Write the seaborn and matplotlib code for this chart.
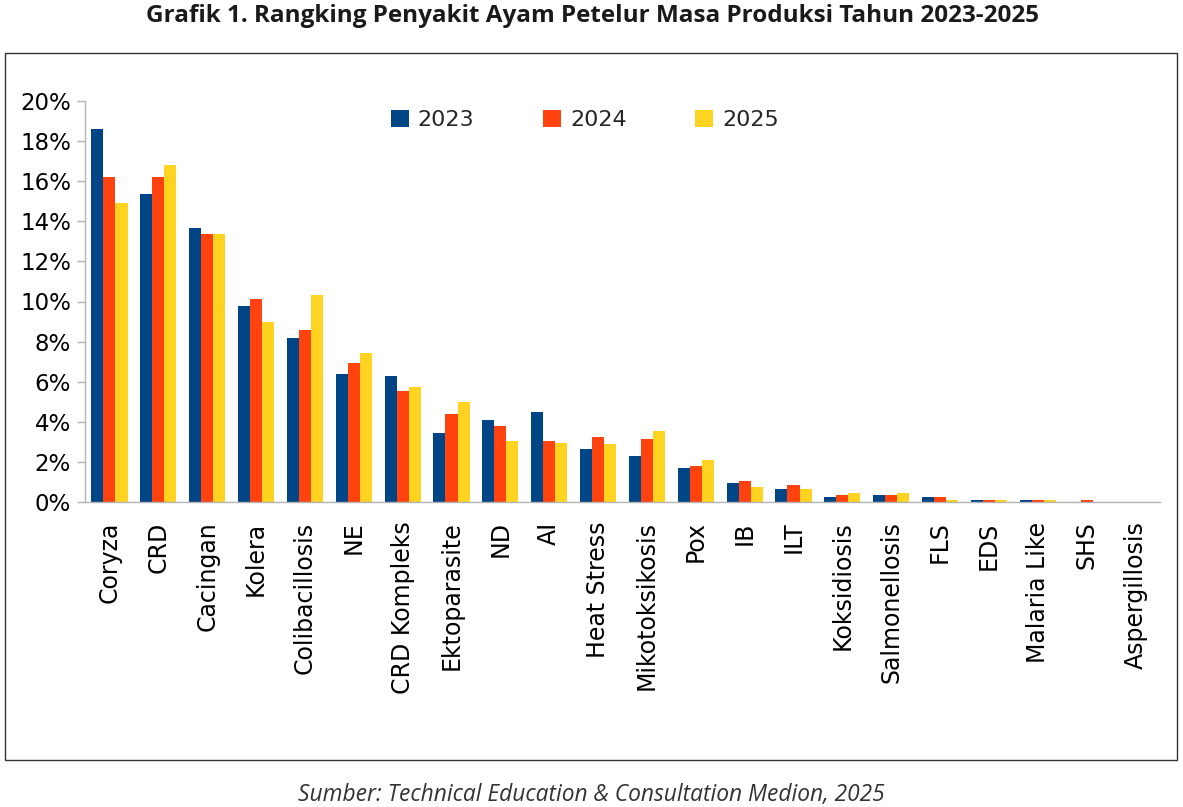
import numpy as np
import pandas as pd
import seaborn as sns
import matplotlib.pyplot as plt
from matplotlib.patches import Rectangle
from matplotlib.ticker import FixedLocator, PercentFormatter

diseases = ["Coryza", "CRD", "Cacingan", "Kolera", "Colibacillosis", "NE",
            "CRD Kompleks", "Ektoparasite", "ND", "AI", "Heat Stress",
            "Mikotoksikosis", "Pox", "IB", "ILT", "Koksidiosis",
            "Salmonellosis", "FLS", "EDS", "Malaria Like", "SHS", "Aspergillosis"]
years = ["2023", "2024", "2025"]
v2023 = [18.6, 15.35, 13.65, 9.8, 8.2, 6.4, 6.3, 3.45, 4.1, 4.47, 2.65, 2.28,
         1.7, 0.95, 0.65, 0.27, 0.37, 0.27, 0.08, 0.08, 0.0, 0.0]
v2024 = [16.2, 16.2, 13.35, 10.1, 8.6, 6.95, 5.53, 4.38, 3.8, 3.05, 3.24, 3.15,
         1.8, 1.04, 0.85, 0.37, 0.37, 0.27, 0.08, 0.08, 0.08, 0.0]
v2025 = [14.9, 16.8, 13.35, 8.97, 10.3, 7.45, 5.73, 4.98, 3.05, 2.95, 2.87, 3.52,
         2.07, 0.75, 0.65, 0.47, 0.47, 0.1, 0.08, 0.08, 0.0, 0.0]
colors = ["#004586", "#ff420e", "#ffd320"]

# long form for seaborn
df = pd.concat([
    pd.DataFrame({"penyakit": diseases, "tahun": y, "nilai": np.array(v) / 100})
    for y, v in zip(years, [v2023, v2024, v2025])
], ignore_index=True)

sns.set_theme(style="white")
plt.rcParams["font.family"] = ["DejaVu Sans"]

W, H = 1183, 807
fig = plt.figure(figsize=(W / 100, H / 100), dpi=100)
ax = fig.add_axes([85 / W, 1 - 502 / H, (1160 - 85) / W, (502 - 101) / H])

sns.barplot(data=df, x="penyakit", y="nilai", hue="tahun", palette=colors,
            width=0.74, saturation=1, linewidth=0, ax=ax)

ax.set_ylim(0, 0.2)
ax.set_xlim(-0.5, len(diseases) - 0.5)
ax.yaxis.set_major_formatter(PercentFormatter(1.0, decimals=0))
ax.set_yticks(np.arange(0, 0.201, 0.02))
ax.set_xlabel("")
ax.set_ylabel("")

# category separators below the axis
ax.xaxis.set_minor_locator(FixedLocator(np.arange(-0.5, len(diseases), 1.0)))
ax.tick_params(axis="x", which="major", length=0, pad=14, labelsize=17,
               labelrotation=90, colors="black")
ax.tick_params(axis="x", which="minor", length=13, width=1, color="#b3b3b3",
               direction="out")
ax.tick_params(axis="y", which="major", length=6, width=1,
               labelsize=16.5, pad=4, left=True, colors="black")
ax.tick_params(axis="y", which="major", color="#b3b3b3")
for s in ["top", "right"]:
    ax.spines[s].set_visible(False)
for s in ["left", "bottom"]:
    ax.spines[s].set_color("#b3b3b3")
    ax.spines[s].set_linewidth(1)

handles, labels = ax.get_legend_handles_labels()
ax.legend(handles, labels, loc="center", ncol=3, frameon=False,
          bbox_to_anchor=(585 / W, 1 - 120 / H), bbox_transform=fig.transFigure,
          fontsize=16, handlelength=0.8, handleheight=0.8,
          handletextpad=0.4, columnspacing=3.1)

# outer frame
fig.patches.append(Rectangle((5 / W, 1 - 760 / H), 1172 / W, 707 / H,
                             transform=fig.transFigure, fill=False,
                             edgecolor="#333333", linewidth=1))

fig.text(593 / W, 1 - 16 / H, "Grafik 1. Rangking Penyakit Ayam Petelur Masa Produksi Tahun 2023-2025",
         ha="center", va="center", fontsize=17.5, fontweight="bold",
         family=["Open Sans", "DejaVu Sans"], color="#1a1a1a")
fig.text(591 / W, 1 - 795 / H, "Sumber: Technical Education & Consultation Medion, 2025",
         ha="center", va="center", fontsize=16.4, style="italic",
         family=["Open Sans", "DejaVu Sans"], color="#333333")

fig.savefig("out.png", dpi=100)
